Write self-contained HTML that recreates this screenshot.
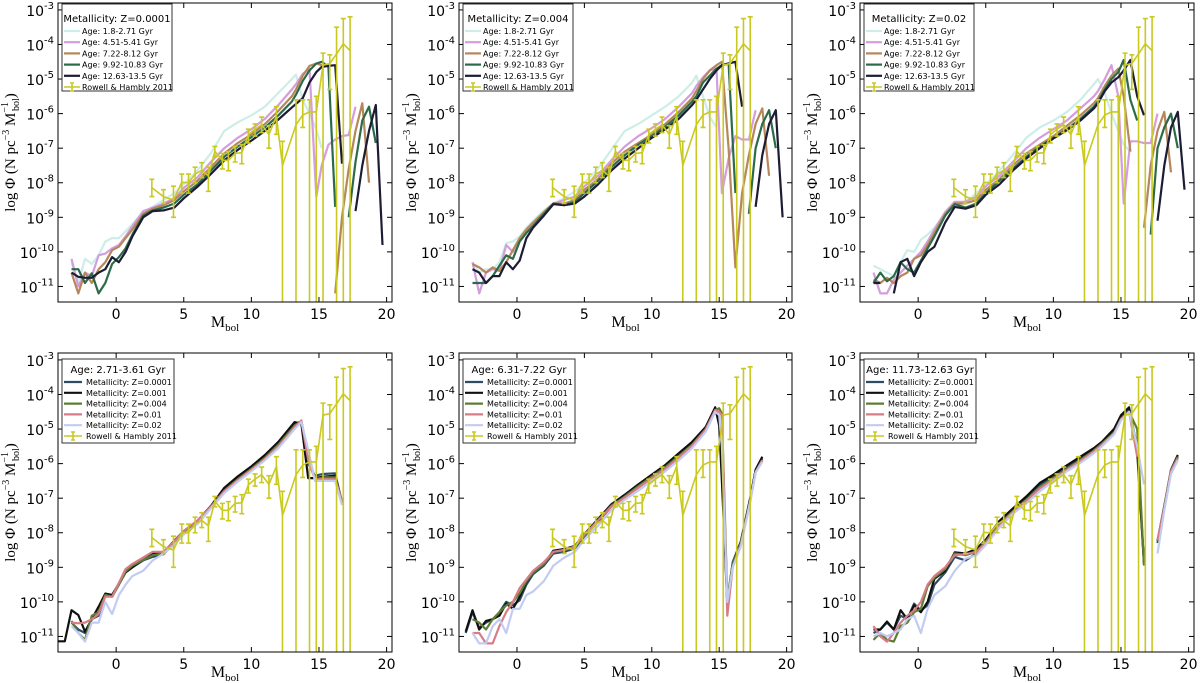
<!DOCTYPE html>
<html><head><meta charset="utf-8"><style>
html,body{margin:0;padding:0;background:#fff}
svg{display:block;font-family:"DejaVu Sans","Liberation Sans",sans-serif}
</style></head><body>
<svg id="fig" width="1200" height="683" viewBox="0 0 1200 683" xmlns="http://www.w3.org/2000/svg"></svg>
<script>
// ---------- data ----------
const obsX=[2.64,3.5,4.24,4.85,5.35,5.84,6.33,6.82,7.3,7.86,8.3,8.8,9.29,9.78,10.27,10.76,11.3,11.85,12.3,13.3,13.8,14.3,14.8,15.3,15.8,16.3,16.8,17.3];
const obsY=[-8.14,-8.4,-8.5,-7.99,-8.0,-7.75,-7.64,-7.8,-7.09,-7.35,-7.35,-7.15,-7.13,-6.61,-6.45,-6.32,-6.6,-6.08,-7.5,-6.32,-6.04,-5.95,-5.95,-4.6,-4.55,-4.27,-3.98,-4.18];
const obsHi=[-7.9,-8.2,-8.1,-7.75,-7.75,-7.55,-7.42,-7.55,-6.95,-7.15,-7.1,-6.95,-6.9,-6.45,-6.3,-6.1,-6.35,-5.8,-6.8,-5.6,-5.6,-5.6,-5.5,-4.25,-4.3,-3.5,-3.25,-3.2];
const obsLo=[-8.4,-8.6,-9.0,-8.3,-8.3,-8.0,-7.85,-8.25,-7.25,-7.6,-7.65,-7.4,-7.45,-6.85,-6.65,-6.55,-7.0,-6.6,-99,-99,-6.4,-99,-99,-99,-5.3,-99,-99,-99];

const XT=[-3.3,-2.8,-2.3,-1.8,-1.3,-0.8,-0.3,0.2,0.7,1.2,2,2.7,3.5,4.3,5,6,7,8,9,10,11,12,13,13.3,13.8,14.3,14.8,15.2,15.7,16.2,16.7,17.2,17.7,18.2,18.7,19.2,19.7];
const ageLabels=["Age: 1.8-2.71 Gyr","Age: 4.51-5.41 Gyr","Age: 7.22-8.12 Gyr","Age: 9.92-10.83 Gyr","Age: 12.63-13.5 Gyr"];
const zLabels=["Metallicity: Z=0.0001","Metallicity: Z=0.001","Metallicity: Z=0.004","Metallicity: Z=0.01","Metallicity: Z=0.02"];

// Panel 1: Z=0.0001
const p1Cyan=[-10.3,-10.9,-10.2,-10.35,-10.1,-9.7,-9.6,-9.6,-9.4,-9.2,-8.85,-8.7,-8.5,-8.3,-8.05,-7.65,-7.15,-6.5,-6.25,-6.05,-5.8,-5.4,-5.0,-4.87,-5.6,-6.0,-6.45,-7.0,null,null,null,null,null,null,null,null,null];
const p1Pink=[-10.2,-11.0,-10.6,-10.7,-10.1,-10.05,-9.9,-9.8,-9.55,-9.25,-8.82,-8.72,-8.6,-8.45,-8.15,-7.85,-7.4,-7.0,-6.7,-6.45,-6.15,-5.75,-5.3,-5.15,-4.85,-4.7,-8.4,-7.5,-6.9,-6.75,-6.65,-6.62,-5.8,null,null,null,null];
const p1Brown=[-10.6,-11.2,-10.6,-10.9,-10.5,-10.3,-9.95,-9.85,-9.6,-9.35,-8.9,-8.75,-8.65,-8.5,-8.25,-7.95,-7.55,-7.15,-6.85,-6.6,-6.3,-5.92,-5.5,-5.3,-4.9,-4.62,-4.55,-4.6,null,-11.2,-9.0,-7.6,-6.5,-5.7,-8.0,null,null];
const p1Green=[-10.5,-10.5,-10.9,-10.62,-11.2,-10.9,-10.35,-10.15,-9.9,-9.5,-8.95,-8.8,-8.72,-8.6,-8.35,-8.05,-7.65,-7.25,-6.95,-6.68,-6.4,-6.05,-5.65,-5.45,-5.05,-4.75,-4.55,-4.5,-4.65,-8.7,null,-9.0,-7.4,-6.2,-5.8,-6.85,null];
const p1Black=[-10.6,-10.72,-10.75,-10.75,-10.6,-10.5,-10.15,-10.3,-10.0,-9.55,-9.0,-8.82,-8.8,-8.72,-8.45,-8.12,-7.75,-7.35,-7.05,-6.78,-6.5,-6.17,-5.82,-5.72,-5.55,-5.1,-4.8,-4.65,-4.62,-4.6,-7.45,null,-8.82,-7.5,-6.5,-5.75,-9.8];
// Panel 2: Z=0.004
const p2Cyan=[-10.3,-10.6,-10.5,-10.5,-10.3,-9.75,-9.7,-9.55,-9.3,-9.1,-8.8,-8.6,-8.45,-8.25,-8.0,-7.6,-7.05,-6.5,-6.3,-6.05,-5.8,-5.5,-5.1,-4.9,-5.5,-6.1,-6.4,null,null,null,null,null,null,null,null,null,null];
const p2Pink=[-10.3,-11.2,-10.6,-10.5,-10.55,-9.8,-10.0,-9.65,-9.4,-9.2,-8.85,-8.6,-8.5,-8.4,-8.1,-7.8,-7.35,-6.95,-6.65,-6.42,-6.15,-5.8,-5.4,-5.2,-4.95,-4.75,-4.7,-8.3,-7.3,-6.65,-6.75,-6.75,-5.9,null,null,null,null];
const p2Brown=[-10.35,-10.45,-10.6,-10.45,-10.55,-10.3,-9.95,-9.6,-9.35,-9.15,-8.85,-8.6,-8.6,-8.5,-8.2,-7.9,-7.45,-7.1,-6.85,-6.6,-6.3,-5.95,-5.55,-5.35,-5.0,-4.75,-4.6,-4.5,-7.0,-10.45,-8.3,-7.2,-6.3,-5.85,-7.8,null,null];
const p2Green=[-10.9,-10.9,-10.9,-10.7,-10.4,-10.1,-10.2,-9.7,-9.45,-9.25,-8.9,-8.6,-8.65,-8.55,-8.3,-7.95,-7.55,-7.2,-6.9,-6.65,-6.38,-6.05,-5.65,-5.5,-5.1,-4.9,-4.7,-4.6,-4.55,-8.3,null,-8.9,-7.0,-6.3,-5.9,-7.0,null];
const p2Black=[-10.5,-10.6,-10.9,-10.7,-10.7,-10.3,-10.5,-10.25,-9.6,-9.3,-8.95,-8.62,-8.65,-8.6,-8.4,-8.05,-7.65,-7.3,-7.0,-6.7,-6.45,-6.15,-5.75,-5.6,-5.3,-5.0,-4.75,-4.6,-4.55,-4.5,-5.8,null,-8.7,-7.2,-6.3,-5.9,-9.0];
// Panel 3: Z=0.02
const p3Cyan=[-10.4,-10.5,-10.6,-10.7,-10.3,-9.95,-10.0,-9.65,-9.5,-9.3,-8.9,-8.6,-8.55,-8.3,-8.05,-7.65,-7.2,-6.7,-6.4,-6.2,-5.95,-5.6,-5.15,-5.0,-5.4,-6.0,-6.5,-6.9,-7.1,null,null,null,null,null,null,null,null];
const p3Pink=[-10.6,-11.2,-11.2,-10.8,-10.6,-10.4,-10.2,-10.0,-9.7,-9.35,-8.85,-8.55,-8.55,-8.4,-8.1,-7.8,-7.4,-7.0,-6.7,-6.45,-6.2,-5.85,-5.5,-5.35,-5.0,-4.6,-5.5,-8.6,-6.8,-6.8,-6.85,-6.85,-6.0,null,null,null,null];
const p3Brown=[-10.8,-10.9,-10.75,-10.9,-10.7,-10.6,-10.2,-10.1,-9.8,-9.45,-8.9,-8.6,-8.6,-8.5,-8.2,-7.9,-7.5,-7.15,-6.9,-6.65,-6.35,-6.05,-5.7,-5.55,-5.2,-4.9,-4.7,-5.5,-7.1,null,-9.3,-7.5,-6.5,-5.95,-7.7,null,null];
const p3Green=[-10.9,-10.6,-10.85,-10.7,-10.3,-10.5,-10.6,-10.25,-9.9,-9.55,-8.95,-8.62,-8.72,-8.6,-8.3,-7.95,-7.6,-7.25,-6.95,-6.7,-6.45,-6.15,-5.8,-5.65,-5.3,-5.0,-4.8,-4.45,-5.6,-6.2,null,-9.5,-7.0,-6.4,-6.0,-7.0,null];
const p3Black=[-10.9,-10.9,null,-11.2,-10.3,-10.2,-10.7,-10.3,-10.0,-9.85,-9.15,-8.7,-8.75,-8.65,-8.35,-8.05,-7.65,-7.3,-7.0,-6.72,-6.48,-6.2,-5.85,-5.7,-5.35,-5.1,-4.95,-4.75,-4.45,-5.5,-6.05,null,-9.1,-7.5,-6.4,-5.95,-8.2];

// Panel 4: Age 2.71-3.61
const X4=[-4.3,-3.8,-3.3,-2.8,-2.3,-1.8,-1.3,-0.8,-0.3,0.2,0.7,1.2,2,2.7,3.5,4.3,5,6,7,8,9,10,11,12,13.2,13.7,14.2,14.7,15.3,16.2,16.7];
const p4Z0001=[null,null,-10.6,-10.8,-10.9,-10.5,-10.4,-9.8,-9.85,-9.5,-9.15,-9.0,-8.8,-8.7,-8.62,-8.3,-8.0,-7.7,-7.25,-6.75,-6.42,-6.12,-5.8,-5.42,-4.85,-4.78,-6.0,-6.35,-6.3,-6.28,-7.15];
const p4Z001=[-11.14,-11.14,-10.24,-10.38,-10.86,-10.5,-10.14,-9.76,-9.8,-9.47,-9.14,-9.0,-8.76,-8.6,-8.57,-8.23,-7.95,-7.66,-7.23,-6.7,-6.37,-6.08,-5.75,-5.37,-4.8,-4.85,-6.42,-6.42,-6.38,-6.35,-7.1];
const p4Z004=[null,null,-10.55,-10.9,-11.1,-10.4,-10.3,-9.8,-9.85,-9.5,-9.12,-8.95,-8.78,-8.65,-8.6,-8.28,-8.0,-7.7,-7.25,-6.78,-6.45,-6.15,-5.83,-5.45,-4.9,-4.78,-5.7,-6.45,-6.4,-6.4,-7.1];
const p4Z01=[null,null,-10.6,-10.62,-10.6,-10.5,-10.35,-9.85,-9.85,-9.45,-9.05,-8.9,-8.72,-8.55,-8.55,-8.25,-7.95,-7.65,-7.25,-6.8,-6.48,-6.18,-5.87,-5.5,-4.95,-4.75,-5.9,-6.45,-6.45,-6.45,-7.1];
const p4Z02=[null,null,-10.7,-10.9,-11.15,-10.6,-10.6,-10.0,-10.35,-9.8,-9.5,-9.25,-9.1,-8.8,-8.6,-8.35,-8.05,-7.75,-7.3,-6.85,-6.52,-6.22,-5.9,-5.55,-5.0,-4.8,-5.6,-6.5,-6.5,-6.5,-7.2];
// Panel 5: Age 6.31-7.22
const X5=[-3.8,-3.3,-2.8,-2.3,-1.8,-1.3,-0.8,-0.3,0.2,0.7,1.2,2,2.7,3.5,4.3,5,6,7,8,9,10,11,12,13,14,14.7,15.0,15.2,15.6,16.0,16.6,17.3,17.7,18.2];
const p5Z0001=[-10.9,-10.3,-10.75,-10.6,-10.5,-10.3,-10.0,-10.1,-9.95,-9.5,-9.2,-8.95,-8.6,-8.55,-8.45,-8.1,-7.68,-7.25,-6.95,-6.65,-6.38,-6.1,-5.75,-5.42,-4.98,-4.4,-4.7,-6.0,-10.0,-8.85,-8.25,-7.0,-6.2,-5.85];
const p5Z001=[-10.86,-10.24,-10.8,-10.55,-10.5,-10.4,-10.05,-10.2,-9.85,-9.42,-9.14,-8.9,-8.52,-8.47,-8.38,-8.04,-7.61,-7.18,-6.9,-6.6,-6.32,-6.04,-5.7,-5.37,-4.94,-4.37,-4.9,-6.5,-10.05,-8.9,-8.28,-7.0,-6.18,-5.8];
const p5Z004=[null,-10.5,-10.6,-10.8,-10.5,-10.3,-10.1,-10.0,-9.75,-9.4,-9.15,-8.9,-8.55,-8.5,-8.4,-8.08,-7.65,-7.22,-6.95,-6.65,-6.38,-6.1,-5.78,-5.45,-5.0,-4.45,-4.4,-4.55,-9.9,-8.9,-8.3,-7.05,-6.25,-5.9];
const p5Z01=[null,-10.9,-10.9,-11.2,-11.2,-10.7,-10.3,-10.0,-9.6,-9.35,-9.1,-8.85,-8.55,-8.5,-8.4,-8.05,-7.65,-7.25,-6.98,-6.7,-6.42,-6.15,-5.82,-5.48,-5.02,-4.45,-4.5,-4.6,-10.4,-9.0,-8.35,-7.1,-6.25,-5.9];
const p5Z02=[null,-10.9,-11.2,-11.2,-10.7,-10.5,-10.9,-10.2,-10.2,-9.8,-9.7,-9.4,-8.95,-8.72,-8.55,-8.2,-7.8,-7.35,-7.05,-6.78,-6.5,-6.22,-5.9,-5.55,-5.08,-4.5,-4.6,-5.5,-10.0,-9.0,-8.4,-7.1,-6.25,-5.95];
// Panel 6: Age 11.73-12.63
const X6=[-3.3,-2.8,-2.3,-1.8,-1.3,-0.8,-0.3,0.2,0.7,1.2,2,2.7,3.5,4.3,5,6,7,8,9,10,11,12,13,13.6,14.5,15.0,15.6,16.2,16.7,17.2,17.7,18.2,18.7,19.2];
const p6Z0001=[-10.9,-10.8,-10.6,-10.8,-10.4,-10.5,-10.05,-10.25,-10.1,-9.5,-9.15,-8.7,-8.8,-8.6,-8.25,-7.72,-7.35,-7.0,-6.62,-6.38,-6.12,-5.85,-5.6,-5.4,-5.05,-4.65,-4.45,-5.5,-8.9,null,-8.3,-7.3,-6.2,-5.8];
const p6Z001=[-10.8,-10.8,-10.57,-10.8,-10.24,-10.5,-10.1,-10.3,-10.0,-9.33,-9.1,-8.57,-8.6,-8.47,-8.2,-7.66,-7.3,-6.95,-6.56,-6.32,-6.05,-5.8,-5.55,-5.37,-4.99,-4.6,-4.37,-5.65,-8.9,null,-8.23,-7.23,-6.18,-5.75];
const p6Z004=[-11.1,-10.9,-11.1,-11.15,-10.7,-10.6,-10.3,-10.2,-9.55,-9.3,-9.05,-8.6,-8.65,-8.55,-8.25,-7.75,-7.38,-7.05,-6.68,-6.42,-6.15,-5.9,-5.62,-5.42,-5.1,-4.7,-4.5,-5.0,-8.95,null,-8.25,-7.25,-6.2,-5.8];
const p6Z01=[-10.7,-11.0,-11.15,-10.9,-10.6,-10.4,-10.25,-10.0,-9.5,-9.25,-9.0,-8.65,-8.62,-8.55,-8.3,-7.8,-7.4,-7.08,-6.72,-6.45,-6.18,-5.92,-5.65,-5.45,-5.12,-4.72,-4.5,-5.8,null,null,-8.2,-7.3,-6.22,-5.85];
const p6Z02=[-11.0,-10.9,-11.0,-10.9,-10.8,-10.5,-10.4,-10.9,-10.2,-9.8,-9.55,-9.1,-8.75,-8.65,-8.35,-7.85,-7.45,-7.15,-6.8,-6.5,-6.22,-5.98,-5.7,-5.5,-5.15,-4.75,-4.5,-5.5,-6.6,null,-8.6,-7.35,-6.3,-5.9];

const xTicks=[0,5,10,15,20];
const yTicks=[-11,-10,-9,-8,-7,-6,-5,-4,-3];

// ---------- drawing ----------
const NS="http://www.w3.org/2000/svg";
const svg=document.getElementById('fig');
function mk(tag,attrs,parent){const e=document.createElementNS(NS,tag);for(const k in attrs)e.setAttribute(k,attrs[k]);(parent||svg).appendChild(e);return e;}
const ageCols=["#cdeee8","#d49ddc","#b5875a","#2b6b4a","#1c1c34"];
const zCols=["#2c4d62","#101010","#5e7d32","#d67c86","#c2cbf2"];
const YEL="#c9c922";
const XMIN=-4.3,XMAX=20.4,YMIN=-11.45,YMAX=-2.8;

const panels=[
 {L:58,R:392,T:3,B:302,title:"Metallicity: Z=0.0001",labels:ageLabels,cols:ageCols,xs:XT,ser:[p1Cyan,p1Pink,p1Brown,p1Green,p1Black],leg:{x:62,y:4,w:110,h:87,ty:19,row0:31,dy:11.2,lx0:64,lx1:80,tx:82},id:"z0001"},
 {L:459,R:792,T:3,B:302,title:"Metallicity: Z=0.004",labels:ageLabels,cols:ageCols,xs:XT,ser:[p2Cyan,p2Pink,p2Brown,p2Green,p2Black],leg:{x:463,y:4,w:110,h:87,ty:19,row0:31,dy:11.2,lx0:465,lx1:481,tx:483},id:"z004"},
 {L:860,R:1194,T:3,B:302,title:"Metallicity: Z=0.02",labels:ageLabels,cols:ageCols,xs:XT,ser:[p3Cyan,p3Pink,p3Brown,p3Green,p3Black],leg:{x:864,y:4,w:110,h:87,ty:19,row0:31,dy:11.2,lx0:866,lx1:882,tx:884},id:"z02"},
 {L:58,R:392,T:353,B:652,title:"Age: 2.71-3.61 Gyr",labels:zLabels,cols:zCols,xs:X4,ser:[p4Z0001,p4Z001,p4Z004,p4Z01,p4Z02],leg:{x:62,y:359,w:112,h:84,ty:370,row0:382,dy:10.8,lx0:64,lx1:82,tx:86},id:"age3"},
 {L:459,R:792,T:353,B:652,title:"Age: 6.31-7.22 Gyr",labels:zLabels,cols:zCols,xs:X5,ser:[p5Z0001,p5Z001,p5Z004,p5Z01,p5Z02],leg:{x:463,y:359,w:112,h:84,ty:370,row0:382,dy:10.8,lx0:465,lx1:483,tx:487},id:"age7"},
 {L:860,R:1194,T:353,B:652,title:"Age: 11.73-12.63 Gyr",labels:zLabels,cols:zCols,xs:X6,ser:[p6Z0001,p6Z001,p6Z004,p6Z01,p6Z02],leg:{x:864,y:359,w:112,h:84,ty:370,row0:382,dy:10.8,lx0:866,lx1:884,tx:888},id:"age12"}
];

panels.forEach((p,pi)=>{
  const sx=v=>p.L+(v-XMIN)/(XMAX-XMIN)*(p.R-p.L);
  const sy=v=>p.B-(v-YMIN)/(YMAX-YMIN)*(p.B-p.T);
  const g=mk('g',{});
  
  
  const cp=mk('clipPath',{id:'cp'+pi},g);
  mk('rect',{x:p.L,y:p.T,width:p.R-p.L,height:p.B-p.T},cp);
  const plot=mk('g',{'clip-path':'url(#cp'+pi+')'},g);
  // model series
  p.ser.forEach((ys,si)=>{
    let d="",pen=false;
    ys.forEach((v,i)=>{
      if(v===null){pen=false;return;}
      d+=(pen?"L":"M")+sx(p.xs[i]).toFixed(1)+","+sy(v).toFixed(1);pen=true;
    });
    const path=mk('path',{d:d,fill:'none',stroke:p.cols[si],'stroke-width':2.2,'stroke-linejoin':'round'},plot);
    
    
  });
  // observations
  const og=mk('g',{stroke:YEL,fill:'none','stroke-width':1.6},plot);
  
  
  let d="";
  obsX.forEach((x,i)=>{d+=(i?"L":"M")+sx(x).toFixed(1)+","+sy(obsY[i]).toFixed(1);});
  mk('path',{d:d},og);
  obsX.forEach((x,i)=>{
    const X=sx(x),yh=sy(obsHi[i]),yl=obsLo[i]<-50?p.B+2:sy(obsLo[i]);
    const eb=mk('path',{d:`M${X},${yh}L${X},${yl}M${X-2.5},${yh}L${X+2.5},${yh}`+(obsLo[i]<-50?"":`M${X-2.5},${yl}L${X+2.5},${yl}`)},og);
    
    
  });
  // frame
  mk('rect',{x:p.L,y:p.T,width:p.R-p.L,height:p.B-p.T,fill:'none',stroke:'#000','stroke-width':1},g);
  // ticks
  xTicks.forEach(t=>{
    const X=sx(t);
    mk('line',{x1:X,y1:p.B,x2:X,y2:p.B-5,stroke:'#000'},g);
    mk('line',{x1:X,y1:p.T,x2:X,y2:p.T+5,stroke:'#000'},g);
    const tx=mk('text',{x:X,y:p.B+17,'font-size':14,'text-anchor':'middle',fill:'#000'},g);
    tx.textContent=t;
    
    
  });
  yTicks.forEach(t=>{
    const Y=sy(t);
    mk('line',{x1:p.L,y1:Y,x2:p.L+5,y2:Y,stroke:'#000'},g);
    mk('line',{x1:p.R,y1:Y,x2:p.R-5,y2:Y,stroke:'#000'},g);
    const tx=mk('text',{x:p.L-4,y:Y+6,'font-size':14,'text-anchor':'end',fill:'#000'},g);
    
    
    const a=mk('tspan',{},tx);a.textContent="10";
    const b=mk('tspan',{'font-size':10,dy:-7},tx);b.textContent=String(t);
  });
  // axis labels
  const xl=mk('text',{x:(p.L+p.R)/2,y:p.B+25,'font-size':16,'text-anchor':'middle','font-family':'"Liberation Serif",serif'},g);
  
  
  const m1=mk('tspan',{},xl);m1.textContent="M";
  const m2=mk('tspan',{'font-size':11,dy:4},xl);m2.textContent="bol";
  const cy=(p.T+p.B)/2, cx=p.L-43;
  const yl=mk('text',{x:cx,y:cy,'font-size':15,'text-anchor':'middle','font-family':'"Liberation Serif",serif',transform:`rotate(-90 ${cx} ${cy})`},g);
  
  
  const s1=mk('tspan',{},yl);s1.textContent="log Φ (N pc";
  const s2=mk('tspan',{'font-size':10,dy:-6},yl);s2.textContent="−3";
  const s3=mk('tspan',{dy:6},yl);s3.textContent=" M";
  const s4=mk('tspan',{'font-size':10,dy:-7},yl);s4.textContent="−1";
  const s5=mk('tspan',{'font-size':10,dx:-9,dy:11},yl);s5.textContent="bol";
  const s6=mk('tspan',{dy:-4},yl);s6.textContent=")";
  // legend
  const L=p.leg;
  const lg=mk('g',{},g);
  
  
  mk('rect',{x:L.x,y:L.y,width:L.w,height:L.h,fill:'#fff',stroke:'#333','stroke-width':1},lg);
  const tt=mk('text',{x:L.x+L.w/2,y:L.ty+3,'font-size':10,'text-anchor':'middle',fill:'#000'},lg);
  tt.textContent=p.title;
  
  
  p.labels.forEach((lab,i)=>{
    const y=L.row0+i*L.dy;
    mk('line',{x1:L.lx0,y1:y,x2:L.lx1,y2:y,stroke:p.cols[i],'stroke-width':2.2},lg);
    const t=mk('text',{x:L.tx,y:y+3,'font-size':8,fill:'#000'},lg);
    t.textContent=lab;
    
    
  });
  const y=L.row0+5*L.dy, xm=(L.lx0+L.lx1)/2;
  mk('path',{d:`M${L.lx0},${y}L${L.lx1},${y}M${xm},${y-4}L${xm},${y+4}M${xm-2},${y-4}L${xm+2},${y-4}M${xm-2},${y+4}L${xm+2},${y+4}`,stroke:YEL,'stroke-width':1.6,fill:'none'},lg);
  const t=mk('text',{x:L.tx,y:y+3,'font-size':8,fill:'#000'},lg);
  t.textContent="Rowell & Hambly 2011";
  
  
});
</script>
</body></html>
